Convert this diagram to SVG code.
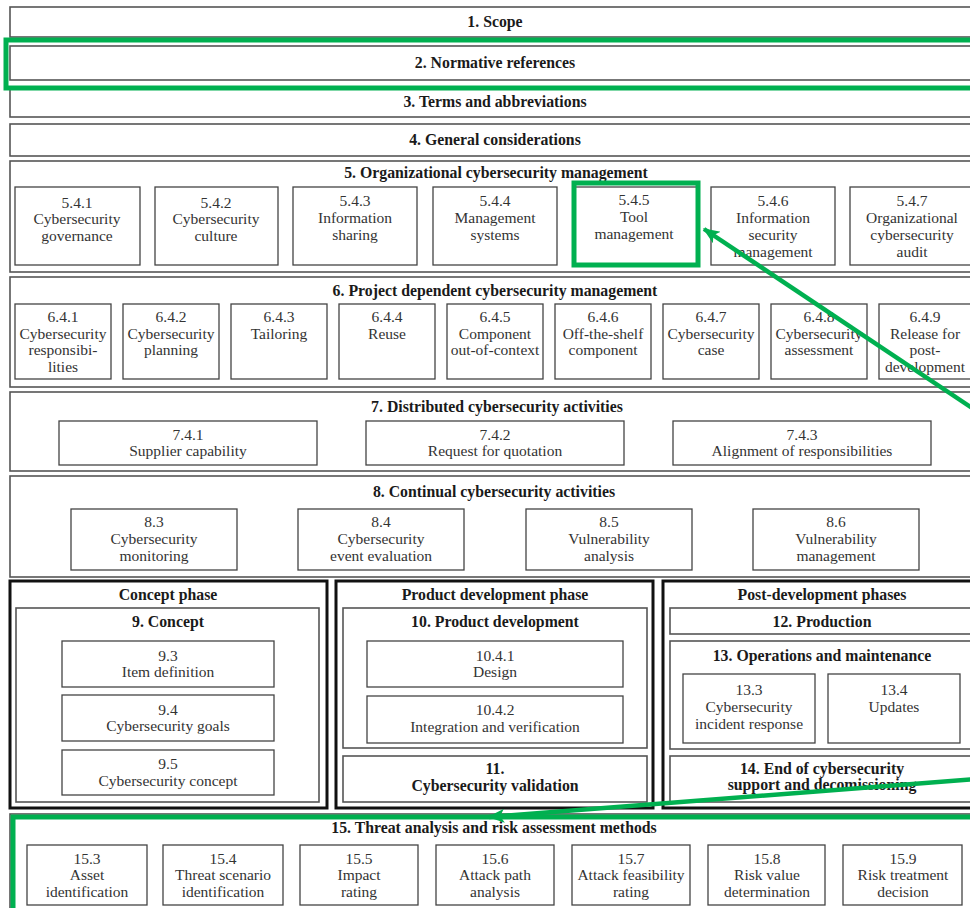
<svg xmlns="http://www.w3.org/2000/svg" width="970" height="908" viewBox="0 0 970 908">
<defs>
<style>
.sec{fill:#fff;stroke:#555;stroke-width:1.6}
.box{fill:#fff;stroke:#444;stroke-width:1.3}
.phase{fill:#fff;stroke:#111;stroke-width:3}
.t{font-family:"Liberation Serif",serif;font-size:15.5px;fill:#333;text-anchor:middle}
.b{font-weight:bold;fill:#1a1a1a;font-size:15.8px}
.g{fill:none;stroke:#00b050;stroke-width:5}
.ga{fill:none;stroke:#00b050;stroke-width:4.5}
</style>
<marker id="ah" viewBox="0 0 12 10" refX="11" refY="5" markerWidth="18" markerHeight="14" markerUnits="userSpaceOnUse" orient="auto">
<path d="M0,0 L12,5 L0,10 L3,5 z" fill="#00b050"/>
</marker>
</defs>
<rect width="970" height="908" fill="#fff"/>

<g id="s1"><rect class="sec" x="10" y="7" width="972" height="30"/><text class="t b" x="495" y="27">1. Scope</text></g>
<g id="s2"><rect class="sec" x="10" y="46" width="972" height="34"/><text class="t b" x="495" y="68">2. Normative references</text></g>
<g id="s3"><rect class="sec" x="10" y="87" width="972" height="30"/><text class="t b" x="495" y="107">3. Terms and abbreviations</text></g>
<g id="s4"><rect class="sec" x="10" y="124" width="972" height="32"/><text class="t b" x="495" y="145">4. General considerations</text></g>

<g id="s5"><rect class="sec" x="10" y="161" width="972" height="111"/><text class="t b" x="496" y="178">5. Organizational cybersecurity management</text></g>
<g id="n541"><rect class="box" x="15" y="187" width="125" height="78"/><text class="t" x="77" y="208">5.4.1</text><text class="t" x="77" y="224">Cybersecurity</text><text class="t" x="77" y="241">governance</text></g>
<g id="n542"><rect class="box" x="155" y="187" width="123" height="78"/><text class="t" x="216" y="208">5.4.2</text><text class="t" x="216" y="224">Cybersecurity</text><text class="t" x="216" y="241">culture</text></g>
<g id="n543"><rect class="box" x="293" y="187" width="124" height="78"/><text class="t" x="355" y="206">5.4.3</text><text class="t" x="355" y="223">Information</text><text class="t" x="355" y="240">sharing</text></g>
<g id="n544"><rect class="box" x="433" y="187" width="124" height="78"/><text class="t" x="495" y="206">5.4.4</text><text class="t" x="495" y="223">Management</text><text class="t" x="495" y="240">systems</text></g>
<g id="n545"><rect class="box" x="574" y="187" width="123" height="78"/><text class="t" x="634" y="205">5.4.5</text><text class="t" x="634" y="222">Tool</text><text class="t" x="634" y="239">management</text></g>
<g id="n546"><rect class="box" x="711" y="187" width="124" height="78"/><text class="t" x="773" y="206">5.4.6</text><text class="t" x="773" y="223">Information</text><text class="t" x="773" y="240">security</text><text class="t" x="773" y="257">management</text></g>
<g id="n547"><rect class="box" x="850" y="187" width="125" height="78"/><text class="t" x="912" y="206">5.4.7</text><text class="t" x="912" y="223">Organizational</text><text class="t" x="912" y="240">cybersecurity</text><text class="t" x="912" y="257">audit</text></g>

<g id="s6"><rect class="sec" x="10" y="277" width="972" height="110"/><text class="t b" x="495" y="296">6. Project dependent cybersecurity management</text></g>
<g id="n641"><rect class="box" x="15" y="304" width="96" height="75"/><text class="t" x="63" y="322">6.4.1</text><text class="t" x="63" y="339">Cybersecurity</text><text class="t" x="63" y="355">responsibi-</text><text class="t" x="63" y="372">lities</text></g>
<g id="n642"><rect class="box" x="123" y="304" width="96" height="75"/><text class="t" x="171" y="322">6.4.2</text><text class="t" x="171" y="339">Cybersecurity</text><text class="t" x="171" y="355">planning</text></g>
<g id="n643"><rect class="box" x="231" y="304" width="96" height="75"/><text class="t" x="279" y="322">6.4.3</text><text class="t" x="279" y="339">Tailoring</text></g>
<g id="n644"><rect class="box" x="339" y="304" width="96" height="75"/><text class="t" x="387" y="322">6.4.4</text><text class="t" x="387" y="339">Reuse</text></g>
<g id="n645"><rect class="box" x="447" y="304" width="96" height="75"/><text class="t" x="495" y="322">6.4.5</text><text class="t" x="495" y="339">Component</text><text class="t" x="495" y="355">out-of-context</text></g>
<g id="n646"><rect class="box" x="555" y="304" width="96" height="75"/><text class="t" x="603" y="322">6.4.6</text><text class="t" x="603" y="339">Off-the-shelf</text><text class="t" x="603" y="355">component</text></g>
<g id="n647"><rect class="box" x="663" y="304" width="96" height="75"/><text class="t" x="711" y="322">6.4.7</text><text class="t" x="711" y="339">Cybersecurity</text><text class="t" x="711" y="355">case</text></g>
<g id="n648"><rect class="box" x="771" y="304" width="96" height="75"/><text class="t" x="819" y="322">6.4.8</text><text class="t" x="819" y="339">Cybersecurity</text><text class="t" x="819" y="355">assessment</text></g>
<g id="n649"><rect class="box" x="879" y="304" width="96" height="75"/><text class="t" x="925" y="322">6.4.9</text><text class="t" x="925" y="339">Release for</text><text class="t" x="925" y="355">post-</text><text class="t" x="925" y="372">development</text></g>

<g id="s7"><rect class="sec" x="10" y="392" width="972" height="79"/><text class="t b" x="497" y="412">7. Distributed cybersecurity activities</text></g>
<g id="n741"><rect class="box" x="59" y="421" width="258" height="44"/><text class="t" x="188" y="440">7.4.1</text><text class="t" x="188" y="456">Supplier capability</text></g>
<g id="n742"><rect class="box" x="366" y="421" width="258" height="44"/><text class="t" x="495" y="440">7.4.2</text><text class="t" x="495" y="456">Request for quotation</text></g>
<g id="n743"><rect class="box" x="673" y="421" width="258" height="44"/><text class="t" x="802" y="440">7.4.3</text><text class="t" x="802" y="456">Alignment of responsibilities</text></g>

<g id="s8"><rect class="sec" x="10" y="476" width="972" height="101"/><text class="t b" x="494" y="497">8. Continual cybersecurity activities</text></g>
<g id="n83"><rect class="box" x="71" y="509" width="166" height="61"/><text class="t" x="154" y="527">8.3</text><text class="t" x="154" y="544">Cybersecurity</text><text class="t" x="154" y="561">monitoring</text></g>
<g id="n84"><rect class="box" x="298" y="509" width="166" height="61"/><text class="t" x="381" y="527">8.4</text><text class="t" x="381" y="544">Cybersecurity</text><text class="t" x="381" y="561">event evaluation</text></g>
<g id="n85"><rect class="box" x="526" y="509" width="166" height="61"/><text class="t" x="609" y="527">8.5</text><text class="t" x="609" y="544">Vulnerability</text><text class="t" x="609" y="561">analysis</text></g>
<g id="n86"><rect class="box" x="753" y="509" width="166" height="61"/><text class="t" x="836" y="527">8.6</text><text class="t" x="836" y="544">Vulnerability</text><text class="t" x="836" y="561">management</text></g>

<g id="p-concept"><rect class="phase" x="10" y="581" width="317" height="227"/><text class="t b" x="168" y="600">Concept phase</text></g>
<g id="s9"><rect class="sec" x="16" y="608" width="303" height="194"/><text class="t b" x="168" y="627">9. Concept</text></g>
<g id="n93"><rect class="box" x="62" y="641" width="212" height="46"/><text class="t" x="168" y="661">9.3</text><text class="t" x="168" y="677">Item definition</text></g>
<g id="n94"><rect class="box" x="62" y="695" width="212" height="46"/><text class="t" x="168" y="715">9.4</text><text class="t" x="168" y="731">Cybersecurity goals</text></g>
<g id="n95"><rect class="box" x="62" y="750" width="212" height="45"/><text class="t" x="168" y="769">9.5</text><text class="t" x="168" y="786">Cybersecurity concept</text></g>

<g id="p-dev"><rect class="phase" x="336" y="581" width="317" height="227"/><text class="t b" x="495" y="600">Product development phase</text></g>
<g id="s10"><rect class="sec" x="343" y="608" width="304" height="140"/><text class="t b" x="495" y="627">10. Product development</text></g>
<g id="n1041"><rect class="box" x="367" y="641" width="256" height="46"/><text class="t" x="495" y="661">10.4.1</text><text class="t" x="495" y="677">Design</text></g>
<g id="n1042"><rect class="box" x="367" y="696" width="256" height="47"/><text class="t" x="495" y="715">10.4.2</text><text class="t" x="495" y="732">Integration and verification</text></g>
<g id="s11"><rect class="sec" x="343" y="756" width="304" height="46"/><text class="t b" x="495" y="774">11.</text><text class="t b" x="495" y="791">Cybersecurity validation</text></g>

<g id="p-post"><rect class="phase" x="663" y="581" width="320" height="227"/><text class="t b" x="822" y="600">Post-development phases</text></g>
<g id="s12"><rect class="sec" x="670" y="608" width="306" height="26"/><text class="t b" x="822" y="627">12. Production</text></g>
<g id="s13"><rect class="sec" x="670" y="641" width="306" height="108"/><text class="t b" x="822" y="661">13. Operations and maintenance</text></g>
<g id="n133"><rect class="box" x="683" y="674" width="132" height="69"/><text class="t" x="749" y="695">13.3</text><text class="t" x="749" y="712">Cybersecurity</text><text class="t" x="749" y="729">incident response</text></g>
<g id="n134"><rect class="box" x="828" y="674" width="132" height="69"/><text class="t" x="894" y="695">13.4</text><text class="t" x="894" y="712">Updates</text></g>
<g id="s14"><rect class="sec" x="670" y="756" width="306" height="46"/><text class="t b" x="822" y="774">14. End of cybersecurity</text><text class="t b" x="822" y="790">support and decomissioning</text></g>

<g id="s15"><rect class="sec" x="10" y="814" width="972" height="100"/><text class="t b" x="494" y="833">15. Threat analysis and risk assessment methods</text></g>
<g id="n153"><rect class="box" x="27" y="845" width="120" height="60"/><text class="t" x="87" y="864">15.3</text><text class="t" x="87" y="880">Asset</text><text class="t" x="87" y="897">identification</text></g>
<g id="n154"><rect class="box" x="163" y="845" width="120" height="60"/><text class="t" x="223" y="864">15.4</text><text class="t" x="223" y="880">Threat scenario</text><text class="t" x="223" y="897">identification</text></g>
<g id="n155"><rect class="box" x="300" y="845" width="118" height="60"/><text class="t" x="359" y="864">15.5</text><text class="t" x="359" y="880">Impact</text><text class="t" x="359" y="897">rating</text></g>
<g id="n156"><rect class="box" x="436" y="845" width="118" height="60"/><text class="t" x="495" y="864">15.6</text><text class="t" x="495" y="880">Attack path</text><text class="t" x="495" y="897">analysis</text></g>
<g id="n157"><rect class="box" x="572" y="845" width="118" height="60"/><text class="t" x="631" y="864">15.7</text><text class="t" x="631" y="880">Attack feasibility</text><text class="t" x="631" y="897">rating</text></g>
<g id="n158"><rect class="box" x="708" y="845" width="117" height="60"/><text class="t" x="767" y="864">15.8</text><text class="t" x="767" y="880">Risk value</text><text class="t" x="767" y="897">determination</text></g>
<g id="n159"><rect class="box" x="843" y="845" width="119" height="60"/><text class="t" x="903" y="864">15.9</text><text class="t" x="903" y="880">Risk treatment</text><text class="t" x="903" y="897">decision</text></g>

<g id="highlights">
<rect class="g" x="6" y="40" width="980" height="48"/>
<rect class="g" x="574" y="183" width="124" height="82"/>
<rect class="g" x="13" y="817" width="975" height="100"/>
</g>
<g id="connectors">
<line class="ga" x1="975" y1="410" x2="704" y2="229" marker-end="url(#ah)"/>
<line class="ga" x1="975" y1="779" x2="489" y2="817" marker-end="url(#ah)"/>
</g>
</svg>
